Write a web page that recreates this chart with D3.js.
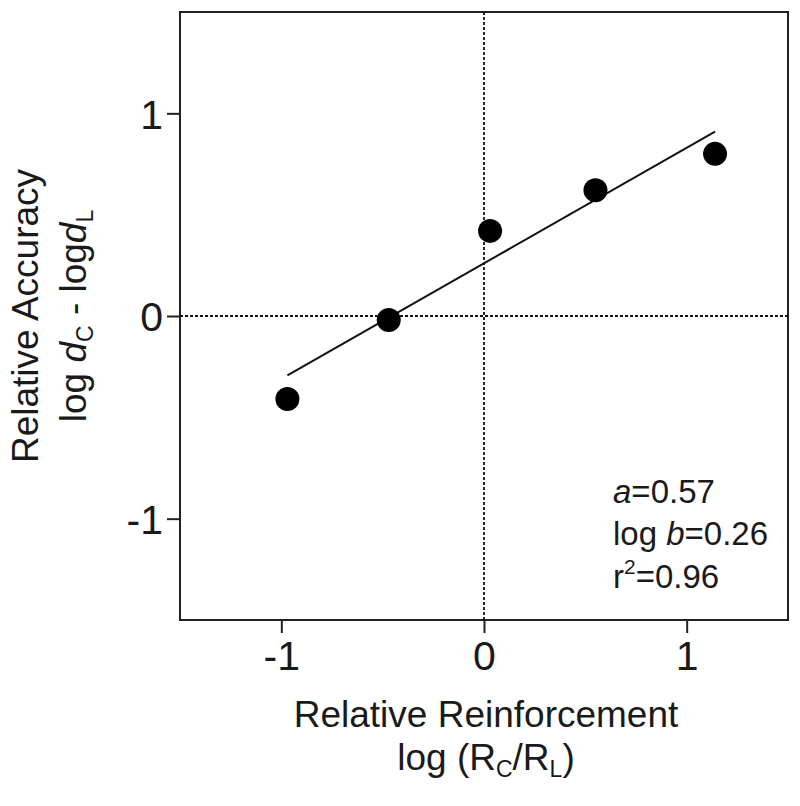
<!DOCTYPE html>
<html>
<head>
<meta charset="utf-8">
<style>
  body { margin: 0; background: #fff; }
  svg text { font-family: "Liberation Sans", Arial, sans-serif; fill: #1a1a1a; }
</style>
</head>
<body>
<div id="chart"></div>
<script src="https://cdn.jsdelivr.net/npm/d3@7"></script>
<script>
// data
const relReinf = [-0.97, -0.47, 0.03, 0.55, 1.14];
const relAcc = [-0.41, -0.02, 0.42, 0.62, 0.80];
const slope = 0.57, intercept = 0.26;
const xTicks = [-1, 0, 1];
const yTicks = [-1, 0, 1];

const W = 800, H = 806;
const m = { left: 180, right: 12, top: 12, bottom: 186 };

const svg = d3.select("#chart").append("svg")
  .attr("width", W).attr("height", H);

const x = d3.scaleLinear().domain([-1.5, 1.5]).range([m.left, W - m.right]);
const y = d3.scaleLinear().domain([-1.5, 1.5]).range([H - m.bottom, m.top]);
const fmt = d => d < 0 ? "-" + Math.abs(d) : String(d);

// frame
svg.append("rect")
  .attr("x", x(-1.5)).attr("y", y(1.5))
  .attr("width", x(1.5) - x(-1.5)).attr("height", y(-1.5) - y(1.5))
  .attr("fill", "none").attr("stroke", "#222").attr("stroke-width", 2);

// zero reference lines (dotted)
svg.append("line")
  .attr("x1", x(0)).attr("x2", x(0)).attr("y1", y(1.5)).attr("y2", y(-1.5))
  .attr("stroke", "#111").attr("stroke-width", 1.8).attr("stroke-dasharray", "3,2");
svg.append("line")
  .attr("x1", x(-1.5)).attr("x2", x(1.5)).attr("y1", y(0)).attr("y2", y(0))
  .attr("stroke", "#111").attr("stroke-width", 1.8).attr("stroke-dasharray", "3,2");

// axes
const xAxis = svg.append("g")
  .attr("transform", `translate(0,${y(-1.5)})`)
  .call(d3.axisBottom(x).tickValues(xTicks).tickSize(13).tickPadding(8).tickFormat(fmt));
const yAxis = svg.append("g")
  .attr("transform", `translate(${x(-1.5)},0)`)
  .call(d3.axisLeft(y).tickValues(yTicks).tickSize(13).tickPadding(4).tickFormat(fmt));
[xAxis, yAxis].forEach(g => {
  g.select(".domain").remove();
  g.selectAll(".tick line").attr("stroke", "#222").attr("stroke-width", 2);
  g.selectAll(".tick text").attr("font-size", 41).attr("fill", "#1a1a1a")
    .attr("font-family", "Liberation Sans, Arial, sans-serif");
});
yAxis.selectAll(".tick text").attr("dy", "0.36em");

// regression line
const xr = d3.extent(relReinf);
svg.append("line")
  .attr("x1", x(xr[0])).attr("y1", y(slope * xr[0] + intercept))
  .attr("x2", x(xr[1])).attr("y2", y(slope * xr[1] + intercept))
  .attr("stroke", "#111").attr("stroke-width", 2);

// points
svg.selectAll("circle.pt")
  .data(relReinf.map((d, i) => [d, relAcc[i]]))
  .join("circle")
  .attr("class", "pt")
  .attr("cx", d => x(d[0])).attr("cy", d => y(d[1]))
  .attr("r", 12).attr("fill", "#000");

// fit statistics
const ann = svg.append("text").attr("font-size", 33).attr("x", 613);
let t = ann.append("tspan").attr("x", 613).attr("y", 503);
t.append("tspan").attr("font-style", "italic").text("a");
t.append("tspan").text("=0.57");
t = ann.append("tspan").attr("x", 613).attr("y", 545);
t.append("tspan").text("log ");
t.append("tspan").attr("font-style", "italic").text("b");
t.append("tspan").text("=0.26");
t = ann.append("tspan").attr("x", 613).attr("y", 588);
t.append("tspan").text("r");
t.append("tspan").attr("font-size", 21).attr("dy", -14).text("2");
t.append("tspan").attr("dy", 14).text("=0.96");

// x axis title
svg.append("text").attr("x", 486).attr("y", 727).attr("text-anchor", "middle")
  .attr("font-size", 37).text("Relative Reinforcement");
const xt2 = svg.append("text").attr("x", 486).attr("y", 770).attr("text-anchor", "middle")
  .attr("font-size", 37);
xt2.append("tspan").text("log (R");
xt2.append("tspan").attr("font-size", 23).attr("dy", 7).text("C");
xt2.append("tspan").attr("dy", -7).text("/R");
xt2.append("tspan").attr("font-size", 23).attr("dy", 7).text("L");
xt2.append("tspan").attr("dy", -7).text(")");

// y axis title
const cy = y(0);
svg.append("text").attr("transform", `translate(38,${cy}) rotate(-90)`)
  .attr("text-anchor", "middle").attr("font-size", 37).text("Relative Accuracy");
const yt2 = svg.append("text").attr("transform", `translate(86,${cy}) rotate(-90)`)
  .attr("text-anchor", "middle").attr("font-size", 37);
yt2.append("tspan").text("log ");
yt2.append("tspan").attr("font-style", "italic").text("d");
yt2.append("tspan").attr("font-size", 23).attr("dy", 7).text("C");
yt2.append("tspan").attr("dy", -7).text(" - log");
yt2.append("tspan").attr("font-style", "italic").text("d");
yt2.append("tspan").attr("font-size", 23).attr("dy", 7).text("L");
</script>
</body>
</html>
